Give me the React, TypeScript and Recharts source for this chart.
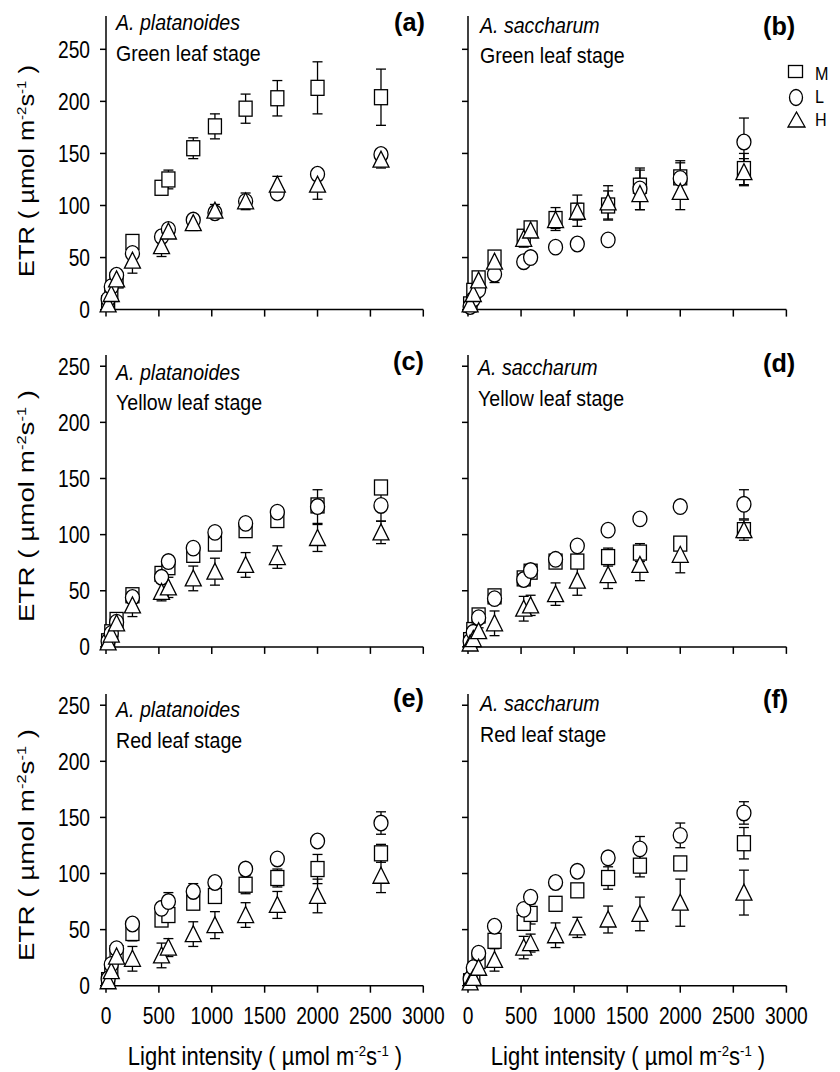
import React from "react";
import { ScatterChart, Scatter, XAxis, YAxis, ErrorBar } from "recharts";

// light levels (µmol m-2 s-1) used in every panel
const lightLevels = [20, 50, 100, 250, 525, 590, 825, 1030, 1320, 1620, 2000, 2600];
const xTicks = [0, 500, 1000, 1500, 2000, 2500, 3000];
const yTicks = [0, 50, 100, 150, 200, 250];

// (a) A. platanoides, green leaf stage
const platGreenM = [6, 15, 28, 65, 117, 125, 155, 176, 193, 203, 213, 204];
const platGreenMErr = [2, 3, 4, 4, 6, 9, 10, 12, 14, 17, 25, 27];
const platGreenL = [10, 22, 33, 54, 70, 77, 86, 93, 104, 112, 130, 149];
const platGreenLErr = [2, 3, 3, 4, 4, 4, 3, 3, 4, 4, 3, 5];
const platGreenH = [5, 15, 29, 47, 61, 75, 83, 95, 104, 120, 120, 144];
const platGreenHErr = [2, 3, 4, 12, 10, 6, 7, 6, 8, 8, 14, 8];

// (b) A. saccharum, green leaf stage
const sacchGreenM = [5, 18, 30, 50, 70, 78, 87, 95, 100, 119, 127, 135];
const sacchGreenMErr = [2, 3, 4, 5, 6, 5, 11, 15, 14, 15, 16, 15];
const sacchGreenL = [3, 10, 19, 34, 46, 50, 60, 63, 67, 116, 126, 161];
const sacchGreenLErr = [2, 3, 3, 8, 4, 3, 4, 4, 3, 20, 15, 23];
const sacchGreenH = [5, 15, 28, 46, 68, 76, 86, 94, 103, 111, 113, 132];
const sacchGreenHErr = [2, 3, 4, 6, 8, 6, 8, 8, 16, 15, 17, 13];

// (c) A. platanoides, yellow leaf stage
const platYellowM = [5, 13, 24, 46, 65, 71, 82, 92, 104, 113, 126, 142];
const platYellowMErr = [1, 2, 3, 4, 4, 4, 4, 5, 4, 5, 5, 3];
const platYellowL = [5, 12, 22, 44, 62, 76, 88, 102, 110, 120, 125, 126];
const platYellowLErr = [1, 2, 3, 3, 4, 4, 3, 4, 4, 4, 15, 14];
const platYellowH = [4, 11, 21, 37, 49, 53, 61, 67, 73, 80, 97, 102];
const platYellowHErr = [2, 3, 4, 10, 8, 9, 11, 12, 11, 10, 12, 10];

// (d) A. saccharum, yellow leaf stage
const sacchYellowM = [6, 15, 28, 45, 61, 67, 76, 76, 80, 84, 92, 104];
const sacchYellowMErr = [2, 3, 3, 3, 3, 3, 3, 3, 8, 8, 6, 4];
const sacchYellowL = [5, 13, 26, 43, 60, 68, 78, 90, 104, 114, 125, 127];
const sacchYellowLErr = [2, 3, 3, 3, 3, 3, 3, 3, 3, 3, 3, 13];
const sacchYellowH = [3, 7, 14, 21, 34, 37, 47, 59, 64, 73, 82, 104];
const sacchYellowHErr = [2, 2, 3, 11, 11, 9, 10, 13, 12, 14, 16, 9];

// (e) A. platanoides, red leaf stage
const platRedM = [5, 14, 29, 47, 59, 63, 74, 80, 90, 96, 104, 118];
const platRedMErr = [2, 2, 3, 7, 5, 5, 6, 5, 8, 8, 13, 8];
const platRedL = [6, 19, 33, 55, 69, 75, 84, 92, 104, 113, 129, 145];
const platRedLErr = [2, 3, 3, 3, 4, 8, 7, 3, 4, 3, 3, 10];
const platRedH = [4, 13, 26, 24, 27, 34, 46, 54, 63, 72, 80, 98];
const platRedHErr = [2, 3, 4, 11, 11, 8, 11, 12, 11, 12, 15, 15];

// (f) A. saccharum, red leaf stage
const sacchRedM = [4, 10, 22, 40, 56, 64, 73, 85, 96, 107, 109, 127];
const sacchRedMErr = [2, 2, 3, 4, 4, 9, 4, 4, 10, 10, 4, 14];
const sacchRedL = [6, 16, 29, 53, 68, 79, 92, 102, 114, 122, 134, 154];
const sacchRedLErr = [2, 3, 3, 3, 4, 5, 5, 5, 5, 11, 11, 10];
const sacchRedH = [3, 7, 16, 23, 34, 38, 45, 52, 59, 64, 74, 83];
const sacchRedHErr = [2, 2, 3, 10, 10, 8, 11, 9, 12, 15, 21, 20];

const FONT = "'Liberation Sans', Arial, Helvetica, sans-serif";

const toPoints = (vals: number[], errs: number[]) =>
  lightLevels.map((x, i) => ({ x, y: vals[i], e: errs[i] }));

// plot boxes in page pixels
const rows = [
  { bottom: 309.3, yMax: 282, ppu: 1.0412 },
  { bottom: 646.7, yMax: 260, ppu: 1.1227 },
  { bottom: 986, yMax: 260, ppu: 1.122 },
];
const cols = [
  { left: 106, right: 423.3 },
  { left: 468.3, right: 786.7 },
];

const panels = [
  { row: 0, col: 0, m: platGreenM, mE: platGreenMErr, l: platGreenL, lE: platGreenLErr, h: platGreenH, hE: platGreenHErr },
  { row: 0, col: 1, m: sacchGreenM, mE: sacchGreenMErr, l: sacchGreenL, lE: sacchGreenLErr, h: sacchGreenH, hE: sacchGreenHErr },
  { row: 1, col: 0, m: platYellowM, mE: platYellowMErr, l: platYellowL, lE: platYellowLErr, h: platYellowH, hE: platYellowHErr },
  { row: 1, col: 1, m: sacchYellowM, mE: sacchYellowMErr, l: sacchYellowL, lE: sacchYellowLErr, h: sacchYellowH, hE: sacchYellowHErr },
  { row: 2, col: 0, m: platRedM, mE: platRedMErr, l: platRedL, lE: platRedLErr, h: platRedH, hE: platRedHErr },
  { row: 2, col: 1, m: sacchRedM, mE: sacchRedMErr, l: sacchRedL, lE: sacchRedLErr, h: sacchRedH, hE: sacchRedHErr },
];

const axisStyle = { stroke: "#000", strokeWidth: 1.5 };

const SquareMark = (p: any) => (
  <rect x={p.cx - 6.5} y={p.cy - 7.5} width={13} height={15} fill="#fff" stroke="#000" strokeWidth={1.3} />
);
const CircleMark = (p: any) => (
  <ellipse cx={p.cx} cy={p.cy} rx={7} ry={7.8} fill="#fff" stroke="#000" strokeWidth={1.3} />
);
const TriangleMark = (p: any) => (
  <polygon
    points={`${p.cx - 8},${p.cy + 7.5} ${p.cx + 8},${p.cy + 7.5} ${p.cx},${p.cy - 8.5}`}
    fill="#fff"
    stroke="#000"
    strokeWidth={1.3}
  />
);

const NoTick = () => <g />;

const XTick = (p: any) => (
  <text
    transform={`translate(${p.x},${p.y}) scale(0.8,1)`}
    textAnchor="middle"
    dy="0.71em"
    fontSize={24}
    fontFamily={FONT}
    fill="#000"
  >
    {p.payload.value}
  </text>
);

const YTick = (p: any) => (
  <text
    transform={`translate(${p.x},${p.y}) scale(0.8,1)`}
    textAnchor="end"
    dy="0.355em"
    fontSize={24}
    fontFamily={FONT}
    fill="#000"
  >
    {p.payload.value}
  </text>
);

const Y_W = 70;
const M_TOP = 10;
const X_H = 60;
const M_RIGHT = 30;

function Panel({ cfg }: { cfg: (typeof panels)[number] }) {
  const row = rows[cfg.row];
  const col = cols[cfg.col];
  const plotTop = row.bottom - row.yMax * row.ppu;
  const plotH = row.bottom - plotTop;
  const plotW = col.right - col.left;
  const showX = cfg.row === 2;
  const showY = cfg.col === 0;

  return (
    <div style={{ position: "absolute", left: col.left - Y_W, top: plotTop - M_TOP }}>
      <ScatterChart
        width={Y_W + plotW + M_RIGHT}
        height={M_TOP + plotH + X_H}
        margin={{ top: M_TOP, right: M_RIGHT, bottom: 0, left: 0 }}
      >
        <XAxis
          type="number"
          dataKey="x"
          domain={[0, 3000]}
          ticks={xTicks}
          interval={0}
          height={X_H}
          tickSize={7}
          tickMargin={14}
          axisLine={axisStyle}
          tickLine={axisStyle}
          tick={showX ? XTick : NoTick}
        />
        <YAxis
          type="number"
          dataKey="y"
          domain={[0, row.yMax]}
          ticks={yTicks}
          interval={0}
          width={Y_W}
          tickSize={6}
          tickMargin={10}
          axisLine={axisStyle}
          tickLine={axisStyle}
          tick={showY ? YTick : NoTick}
        />
        <Scatter data={toPoints(cfg.m, cfg.mE)} shape={SquareMark} isAnimationActive={false}>
          <ErrorBar dataKey="e" direction="y" width={5} stroke="#000" strokeWidth={1.3} />
        </Scatter>
        <Scatter data={toPoints(cfg.l, cfg.lE)} shape={CircleMark} isAnimationActive={false}>
          <ErrorBar dataKey="e" direction="y" width={5} stroke="#000" strokeWidth={1.3} />
        </Scatter>
        <Scatter data={toPoints(cfg.h, cfg.hE)} shape={TriangleMark} isAnimationActive={false}>
          <ErrorBar dataKey="e" direction="y" width={5} stroke="#000" strokeWidth={1.3} />
        </Scatter>
      </ScatterChart>
    </div>
  );
}

const Txt = ({ x, y, size, sx = 0.89, anchor = "start", bold, italic, children }: any) => (
  <text
    transform={`translate(${x},${y}) scale(${sx},1)`}
    fontSize={size}
    textAnchor={anchor}
    fontWeight={bold ? "bold" : "normal"}
    fontStyle={italic ? "italic" : "normal"}
    fontFamily={FONT}
    fill="#000"
  >
    {children}
  </text>
);

const unitTail = (sup: number, shift: number) => [
  <tspan key="a" dy={-shift} fontSize={sup}>-2</tspan>,
  <tspan key="b" dy={shift}>s</tspan>,
  <tspan key="c" dy={-shift} fontSize={sup}>-1</tspan>,
  <tspan key="d" dy={shift}> )</tspan>,
];

const notes = [
  { x: 116, y1: 30, y2: 61, sp: "A. platanoides", st: "Green leaf stage", lx: 394, ly: 31, lab: "(a)" },
  { x: 480, y1: 33, y2: 63, sp: "A. saccharum", st: "Green leaf stage", lx: 763, ly: 35, lab: "(b)" },
  { x: 116, y1: 380, y2: 410, sp: "A. platanoides", st: "Yellow leaf stage", lx: 393, ly: 370, lab: "(c)" },
  { x: 478, y1: 375, y2: 406, sp: "A. saccharum", st: "Yellow leaf stage", lx: 763, ly: 372, lab: "(d)" },
  { x: 116, y1: 717, y2: 748, sp: "A. platanoides", st: "Red leaf stage", lx: 393, ly: 707, lab: "(e)" },
  { x: 480, y1: 711, y2: 742, sp: "A. saccharum", st: "Red leaf stage", lx: 763, ly: 708, lab: "(f)" },
];

const yTitles = [
  { cy: 171, len: 0.94 },
  { cy: 506, len: 1.03 },
  { cy: 845, len: 1.03 },
];

export default function App() {
  return (
    <div style={{ position: "absolute", left: 0, top: 0, width: 840, height: 1072, background: "#fff" }}>
      {panels.map((p, i) => (
        <Panel key={i} cfg={p} />
      ))}
      <svg
        width={840}
        height={1072}
        style={{ position: "absolute", left: 0, top: 0, pointerEvents: "none" }}
      >
        {notes.map((n) => (
          <g key={n.lab}>
            <Txt x={n.x} y={n.y1} size={22} italic>{n.sp}</Txt>
            <Txt x={n.x} y={n.y2} size={22}>{n.st}</Txt>
            <Txt x={n.lx} y={n.ly} size={26} sx={0.97} bold>{n.lab}</Txt>
          </g>
        ))}

        {yTitles.map((t) => (
          <text
            key={t.cy}
            transform={`translate(34,${t.cy}) rotate(-90) scale(${t.len},0.85)`}
            textAnchor="middle"
            fontSize={27}
            fontFamily={FONT}
            fill="#000"
          >
            ETR ( µmol m{unitTail(16, 10)}
          </text>
        ))}

        {[265, 628].map((cx) => (
          <Txt key={cx} x={cx} y={1065} size={25} sx={0.88} anchor="middle">
            Light intensity ( µmol m{unitTail(15, 9)}
          </Txt>
        ))}

        {/* legend */}
        <rect x={788.5} y={65.5} width={14} height={12} fill="#fff" stroke="#000" strokeWidth={1.3} />
        <ellipse cx={796} cy={97.5} rx={6.5} ry={8} fill="#fff" stroke="#000" strokeWidth={1.3} />
        <polygon points="788,127 805,127 796.5,112" fill="#fff" stroke="#000" strokeWidth={1.3} />
        <Txt x={815} y={80} size={19} sx={0.85}>M</Txt>
        <Txt x={815} y={103} size={19} sx={0.85}>L</Txt>
        <Txt x={815} y={126} size={19} sx={0.85}>H</Txt>
      </svg>
    </div>
  );
}
